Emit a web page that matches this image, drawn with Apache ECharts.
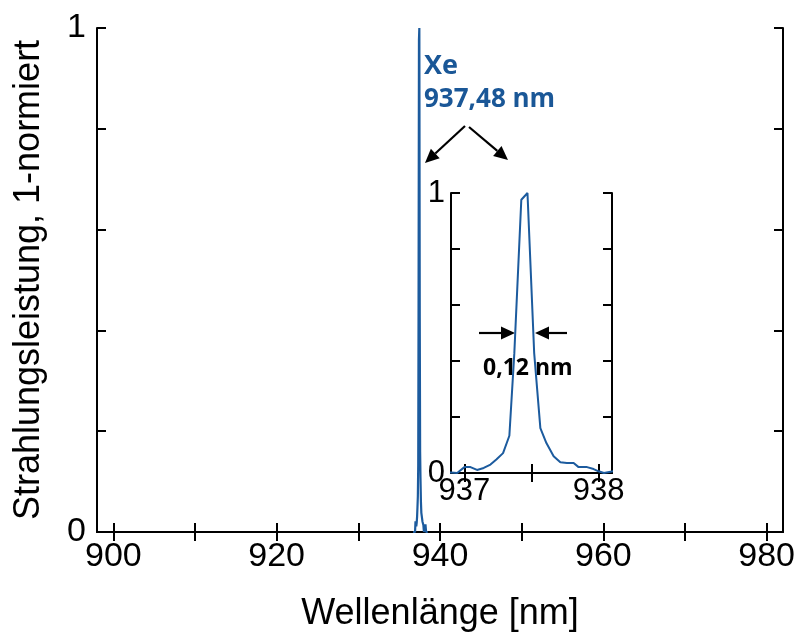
<!DOCTYPE html>
<html>
<head>
<meta charset="utf-8">
<script src="https://cdn.jsdelivr.net/npm/echarts@6/dist/echarts.min.js"></script>
<style>html,body{margin:0;padding:0;background:#fff}#c{width:795px;height:632px}</style>
</head>
<body>
<div id="c"></div>
<script>
// Spectrum (wavelength in nm, normalized intensity)
const wavelength = [936.70, 936.80, 936.90, 936.946, 937.00, 937.045, 937.094, 937.144, 937.194, 937.238, 937.288, 937.335, 937.372, 937.424, 937.47, 937.48, 937.52, 937.566, 937.611, 937.665, 937.715, 937.764, 937.814, 937.851, 937.914, 937.963, 938.00, 938.04, 938.15, 938.22, 938.30, 938.50];
const intensity  = [0.000, 0.000, 0.002, 0.000, 0.021, 0.021, 0.011, 0.018, 0.030, 0.048, 0.071, 0.133, 0.428, 0.976, 1.000, 1.000, 0.428, 0.160, 0.107, 0.060, 0.038, 0.036, 0.036, 0.021, 0.021, 0.014, 0.006, 0.000, 0.010, 0.015, 0.000, 0.000];

// Tick values
const mainXTicks = [900, 910, 920, 930, 940, 950, 960, 970, 980];
const mainXLabels = [900, 920, 940, 960, 980];
const mainYLabels = [0, 1];
const insetXTicks = [937, 937.5, 938];
const insetXLabels = [937, 938];
const insetYLabels = [0, 1];

const data = wavelength.map((w, i) => [w, intensity[i]]);
const blue = '#1c5b9e';
const txtBlue = '#1a5797';
const axisLine = { lineStyle: { color: '#000', width: 2 } };
const fontFam = '"Liberation Sans", Arial, sans-serif';

function xAx(grid, min, max, ticks, labels, pos, show, fs, margin) {
  return {
    type: 'value', gridIndex: grid, min: min, max: max, position: pos,
    axisLine: axisLine,
    axisTick: { show: true, inside: true, length: 9, customValues: ticks, lineStyle: { color: '#000', width: 2 } },
    axisLabel: { show: show, customValues: labels, fontSize: fs, color: '#000', fontFamily: fontFam, margin: margin },
    splitLine: { show: false }
  };
}
function yAx(grid, pos, show, fs, margin, labels, extra) {
  return Object.assign({
    type: 'value', gridIndex: grid, min: 0, max: 1, interval: 0.2, position: pos,
    axisLine: axisLine,
    axisTick: { show: true, inside: true, length: 9, lineStyle: { color: '#000', width: 2 } },
    axisLabel: { show: show, customValues: labels, fontSize: fs, color: '#000', fontFamily: fontFam, margin: margin },
    splitLine: { show: false }
  }, extra || {});
}

function arrow(x1, y1, x2, y2) {
  const dx = x2 - x1, dy = y2 - y1, L = Math.sqrt(dx * dx + dy * dy);
  const ux = dx / L, uy = dy / L, hl = 14, hw = 6.5;
  const bx = x2 - ux * hl, by = y2 - uy * hl;
  return [
    { type: 'line', shape: { x1: x1, y1: y1, x2: bx, y2: by }, style: { stroke: '#000', lineWidth: 2.2 } },
    { type: 'polygon', shape: { points: [[x2, y2], [bx - uy * hw, by + ux * hw], [bx + uy * hw, by - ux * hw]] }, style: { fill: '#000' } }
  ];
}

const chart = echarts.init(document.getElementById('c'));
const mainX = xAx(0, 898, 982, mainXTicks, mainXLabels, 'bottom', true, 34, 8);
mainX.name = 'Wellenlänge [nm]';
mainX.nameLocation = 'middle';
mainX.nameGap = 64;
mainX.nameTextStyle = { fontSize: 36, color: '#000', fontFamily: fontFam };
const mainY = yAx(0, 'left', true, 34, 11, mainYLabels, {
  name: 'Strahlungsleistung, 1-normiert', nameLocation: 'middle', nameGap: 50,
  nameTextStyle: { fontSize: 36, color: '#000', fontFamily: fontFam }
});

chart.setOption({
  animation: false,
  backgroundColor: '#fff',
  grid: [
    { left: 97, top: 28, width: 686, height: 504, outerBoundsMode: 'none' },
    { left: 451, top: 193, width: 161, height: 280, outerBoundsMode: 'none', backgroundColor: '#fff', show: true, borderWidth: 0 }
  ],
  xAxis: [
    mainX,
    xAx(0, 898, 982, mainXTicks, mainXLabels, 'top', false, 34, 8),
    xAx(1, 936.9, 938.1, insetXTicks, insetXLabels, 'bottom', true, 31, 3),
    xAx(1, 936.9, 938.1, insetXTicks, insetXLabels, 'top', false, 31, 3)
  ],
  yAxis: [
    mainY,
    yAx(0, 'right', false, 34, 11, mainYLabels),
    yAx(1, 'left', true, 31, 6, insetYLabels),
    yAx(1, 'right', false, 31, 6, insetYLabels)
  ],
  series: [
    { type: 'line', xAxisIndex: 0, yAxisIndex: 0, data: data, showSymbol: false, symbol: 'none', lineStyle: { color: blue, width: 2.2 } },
    { type: 'line', xAxisIndex: 2, yAxisIndex: 2, data: data, showSymbol: false, symbol: 'none', lineStyle: { color: blue, width: 2 }, clip: true }
  ],
  graphic: [
    { type: 'text', left: 424, top: 53, style: { text: 'Xe', fontSize: 27, fontWeight: 'bold', fontFamily: '"Open Sans", sans-serif', fill: txtBlue } },
    { type: 'text', left: 424, top: 87, style: { text: '937,48 nm', fontSize: 26, fontWeight: 'bold', fontFamily: '"Open Sans", sans-serif', fill: txtBlue } },
    { type: 'text', left: 483, top: 357, style: { text: '0,12 nm', fontSize: 23, fontWeight: 'bold', fontFamily: '"Open Sans", sans-serif', fill: '#000' } }
  ].concat(arrow(465, 126, 425, 163), arrow(469, 127, 508, 160), arrow(479, 333, 515, 333), arrow(567, 333, 535, 333))
});
</script>
</body>
</html>
